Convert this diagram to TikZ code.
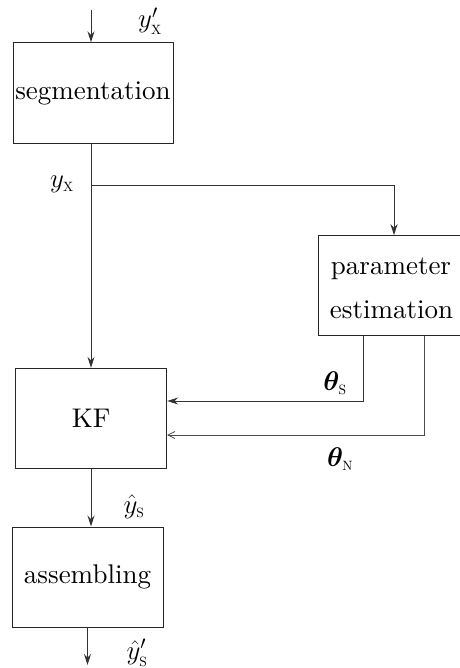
\RequirePackage{fix-cm}
\documentclass[tikz,border=0pt]{standalone}
\usepackage{amsmath,bm}
\usepackage{fontspec}
\setmainfont{lmroman10-regular}[Extension=.otf,BoldFont=lmroman10-bold,ItalicFont=lmroman10-italic]
\usetikzlibrary{arrows.meta}
\newcommand{\lsub}[1]{_{\scriptscriptstyle\mathrm{#1}}}
\begin{document}
\begin{tikzpicture}[x=1pt,y=-1pt,
  every node/.style={font=\fontsize{27}{32}\selectfont},
  blockbox/.style={draw=black!85,line width=1pt,rectangle,inner sep=0pt,align=center},
  flow/.style={draw=black!80,line width=1pt,-{Stealth[length=11pt,width=7pt]}},
  openflow/.style={draw=black!70,line width=1pt,-{Straight Barb[length=7pt,width=7pt,line width=0.7pt]}},
  lbl/.style={inner sep=0pt}]
\useasboundingbox (0,0) rectangle (459,668);

% blocks
\node[blockbox,minimum width=160pt,minimum height=101pt] (seg) at (93,93.3) {segmentation};
\node[blockbox,minimum width=151pt,minimum height=100pt] (kf) at (91.2,418.3) {KF};
\node[blockbox,minimum width=151pt,minimum height=100pt] (asm) at (87.5,577) {assembling};
\node[blockbox,minimum width=144pt,minimum height=100pt,text width=142pt] (pe) at (390,285.7) {};
\node[lbl] (pea) at (391,269) {parameter};
\node[lbl] (peb) at (391.5,310) {estimation};

% reference points of the signal lines
\coordinate (trunk) at (91,10);
\coordinate (split) at (91,185.7);
\coordinate (corner) at (394,185.7);
\coordinate (ts) at (363,401);
\coordinate (tn) at (424,435);
\coordinate (outx) at (87.5,665);

% signal flow
\draw[flow] (trunk) -- (trunk |- seg.north);
\draw[flow] (trunk |- seg.south) -- (trunk |- kf.north);
\draw[flow] (split) -- (corner) -- (corner |- pe.north);
\draw[flow] (ts |- pe.south) -- (ts) -- (kf.east |- ts);
\draw[openflow] (tn |- pe.south) -- (tn) -- (kf.east |- tn);
\draw[flow] (trunk |- kf.south) -- (trunk |- asm.north);
\draw[flow] (outx |- asm.south) -- (outx);

% signal labels
\node[lbl] (lyxp) at (150,21) {$y'\lsub{X}$};
\node[lbl] (lyx) at (62,184) {$y\lsub{X}$};
\node[lbl] (lts) at (335,383) {$\bm{\theta}\lsub{S}$};
\node[lbl] (ltn) at (340,459) {$\bm{\theta}\lsub{N}$};
\node[lbl] (lys) at (134,507) {$\hat{y}\lsub{S}$};
\node[lbl] (lysp) at (137,653) {$\hat{y}'\lsub{S}$};
\end{tikzpicture}
\end{document}
